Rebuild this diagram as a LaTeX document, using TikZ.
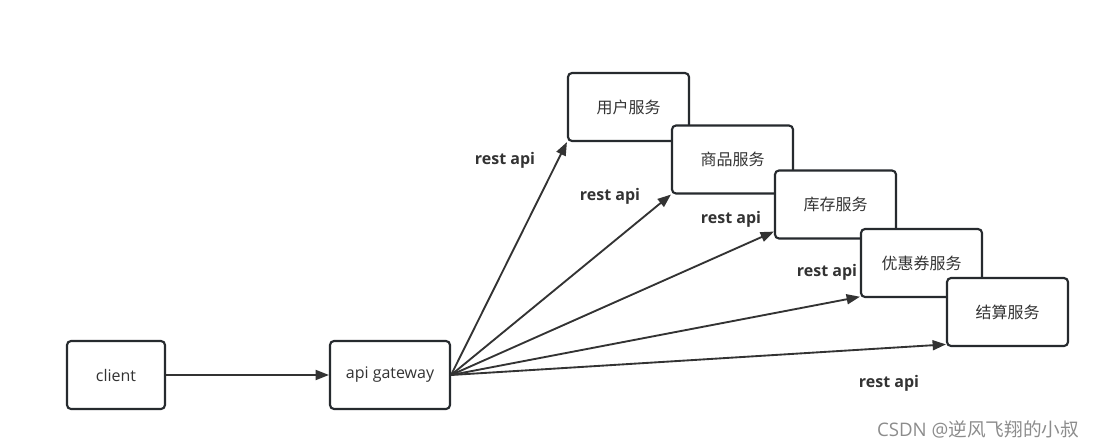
\documentclass[tikz,border=0pt]{standalone}
\usepackage{fontspec}
\setmainfont{Open Sans}
\newfontfamily\cjk{Noto Sans CJK SC}
\usepackage{tikz}
\usetikzlibrary{arrows,arrows.meta,positioning}
\definecolor{boxline}{HTML}{262A2E}
\definecolor{arrowline}{HTML}{333333}
\tikzset{font=\fontsize{12pt}{14pt}\selectfont}
\tikzset{svcbox/.style={draw=boxline,line width=1.6pt,rounded corners=3pt,fill=white,
  minimum width=90.75pt,minimum height=51pt,inner sep=0pt,text=black!80}}
\tikzset{restarrow/.style={draw=arrowline,line width=1.4pt,-{Triangle[length=10pt,width=7.5pt]}}}
\tikzset{restlabel/.style={font=\fontsize{12pt}{14pt}\selectfont\bfseries,text=black!80}}

\begin{document}
\begin{tikzpicture}[x=0.75pt,y=-0.75pt]
\useasboundingbox (0,0) rectangle (1112,447);
\node[svcbox,minimum width=73.5pt] (client) at (116,375) {client};
\node[svcbox,minimum width=90pt] (gateway) at (390,375) {api gateway};
\node[svcbox] (user) at (628.5,107) {\cjk 用户服务};
\node[svcbox] (goods) at (732.5,159.5) {\cjk 商品服务};
\node[svcbox] (stock) at (835.5,204.5) {\cjk 库存服务};
\node[svcbox] (coupon) at (921.5,263) {\cjk 优惠券服务};
\node[svcbox] (settle) at (1007.5,312) {\cjk 结算服务};
\draw[restarrow] (client) -- (gateway);
\draw[restarrow] (gateway.east) -- (user.south west);
\draw[restarrow] (gateway.east) -- (goods.south west);
\draw[restarrow] (gateway.east) -- ([yshift=6pt]stock.south west);
\draw[restarrow] (gateway.east) -- ([yshift=1pt]coupon.south west);
\draw[restarrow] (gateway.east) -- ([yshift=2pt]settle.south west);
\node[restlabel] (lbluser) at (505,160) {rest api};
\node[restlabel] (lblgoods) at (610,196) {rest api};
\node[restlabel] (lblstock) at (731,219) {rest api};
\node[restlabel] (lblcoupon) at (827,272) {rest api};
\node[restlabel] (lblsettle) at (889,383) {rest api};
\node[text=black!45,font=\fontsize{14pt}{16pt}\selectfont] (mark) at (978,429) {CSDN @{\cjk 逆风飞翔的小叔}};
\end{tikzpicture}
\end{document}
